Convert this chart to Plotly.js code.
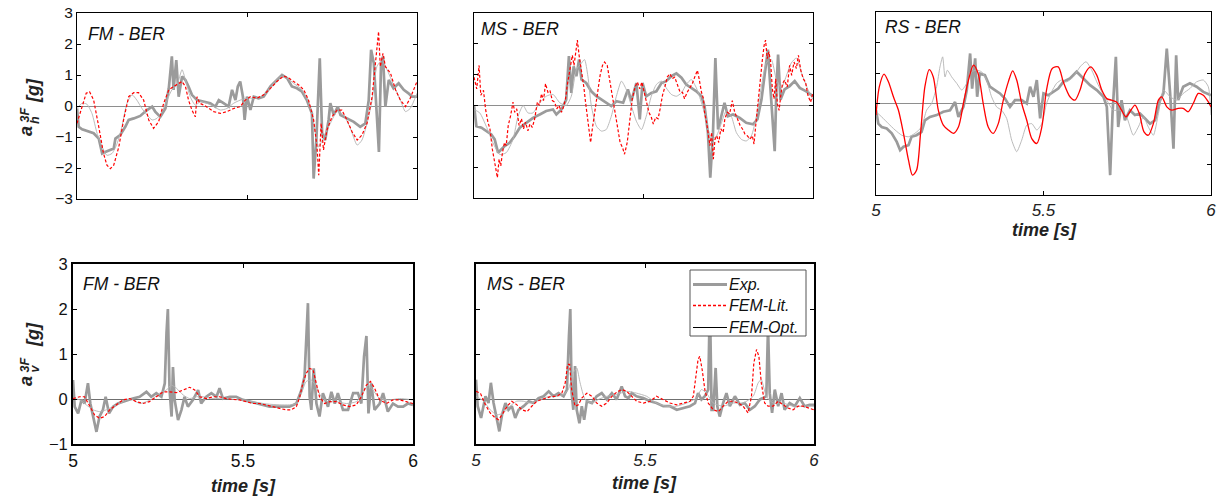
<!DOCTYPE html>
<html><head><meta charset="utf-8">
<script src="https://cdn.plot.ly/plotly-3.0.1.min.js"></script>
<style>html,body{margin:0;padding:0;background:#fff}#chart{width:1223px;height:497px}</style>
</head><body><div id="chart"></div>
<script>
// ---------------- data ----------------
const timeTicks = [5, 5.5, 6];
const timeTickText = ['5', '5.5', '6'];
const hTicks = [-3, -2, -1, 0, 1, 2, 3];
const vTicks = [-1, 0, 1, 2, 3];
const panelNames = ['FM - BER', 'MS - BER', 'RS - BER', 'FM - BER', 'MS - BER'];
const seriesNames = ['Exp.', 'FEM-Lit.', 'FEM-Opt.'];

// [time (s), acceleration (g)]
const fmH_exp = [[5.000,-0.08],[5.005,-0.67],[5.015,-0.75],[5.029,-0.8],[5.049,-0.88],[5.064,-1.05],[5.074,-1.53],[5.083,-1.48],[5.098,-1.42],[5.108,-1.37],[5.113,-1.05],[5.127,-0.94],[5.142,-0.67],[5.152,-0.45],[5.167,-0.4],[5.186,-0.32],[5.206,-0.13],[5.221,-0.02],[5.230,-0.18],[5.245,-0.35],[5.260,-0.08],[5.270,0.57],[5.279,1.6],[5.284,0.52],[5.292,1.48],[5.299,0.3],[5.309,0.95],[5.319,0.84],[5.328,0.63],[5.338,0.36],[5.353,0.19],[5.373,0.14],[5.392,0.09],[5.407,-0.02],[5.417,0.19],[5.431,0.09],[5.446,-0.02],[5.456,0.52],[5.466,0.19],[5.473,0.63],[5.480,0.79],[5.488,0.3],[5.493,-0.45],[5.500,0.3],[5.510,-0.13],[5.520,0.3],[5.534,0.25],[5.549,0.3],[5.569,0.63],[5.588,0.84],[5.603,1.0],[5.618,0.9],[5.632,0.63],[5.647,0.57],[5.662,0.46],[5.676,0.19],[5.691,-0.24],[5.696,-2.34],[5.704,-1.1],[5.714,1.54],[5.721,-0.88],[5.730,-1.1],[5.740,-0.45],[5.745,0.09],[5.755,-0.29],[5.767,-0.02],[5.775,-0.29],[5.794,-0.4],[5.814,-0.51],[5.833,-0.67],[5.848,-0.56],[5.858,0.19],[5.865,1.81],[5.873,1.38],[5.880,-0.02],[5.888,-1.48],[5.894,1.27],[5.900,1.6],[5.907,-0.02],[5.917,0.84],[5.931,0.57],[5.946,0.73],[5.961,0.52],[5.975,0.41],[5.985,0.3],[6.000,0.3]];
const fmH_lit = [[5.000,-0.56],[5.015,0],[5.027,0.41],[5.037,0.46],[5.049,0.19],[5.064,-0.67],[5.078,-1.53],[5.088,-1.91],[5.098,-2.02],[5.108,-1.91],[5.123,-1.32],[5.137,-0.45],[5.152,0.3],[5.167,0.43],[5.181,0.43],[5.196,0.19],[5.211,-0.45],[5.225,-0.72],[5.240,-0.51],[5.255,0.09],[5.270,0.52],[5.284,0.63],[5.299,0.73],[5.309,0.79],[5.319,0.63],[5.328,0.19],[5.338,-0.13],[5.348,-0.35],[5.353,0.3],[5.361,0.09],[5.373,0.03],[5.387,-0.08],[5.402,-0.18],[5.422,-0.24],[5.441,-0.18],[5.461,-0.08],[5.480,-0.02],[5.495,0.19],[5.510,0.3],[5.529,0.25],[5.549,0.36],[5.569,0.57],[5.588,0.79],[5.608,0.97],[5.623,0.9],[5.637,0.79],[5.652,0.68],[5.667,0.52],[5.681,0.19],[5.696,-0.45],[5.706,-1.32],[5.711,-2.23],[5.718,-0.56],[5.725,-1.42],[5.735,-0.78],[5.750,-0.35],[5.765,-0.13],[5.779,-0.13],[5.794,-0.45],[5.809,-0.83],[5.824,-1.1],[5.838,-0.94],[5.853,-0.56],[5.868,0.3],[5.877,1.27],[5.887,2.4],[5.892,1.27],[5.900,1.7],[5.907,1.27],[5.922,1.06],[5.937,0.52],[5.951,0.19],[5.966,-0.02],[5.980,0.25],[6.000,0.79]];
const fmH_opt = [[5.000,-0.08],[5.015,0.09],[5.029,0.06],[5.044,-0.24],[5.059,-0.88],[5.074,-1.32],[5.088,-1.59],[5.103,-1.53],[5.118,-1.21],[5.132,-0.67],[5.147,0.09],[5.162,0.36],[5.176,0.19],[5.191,-0.08],[5.206,-0.29],[5.221,-0.45],[5.235,-0.4],[5.250,-0.18],[5.265,0.19],[5.279,0.52],[5.294,0.68],[5.309,1.17],[5.319,0.84],[5.333,0.3],[5.348,0.03],[5.363,0.14],[5.382,0.09],[5.402,-0.02],[5.422,-0.13],[5.441,-0.08],[5.461,0.09],[5.480,0.19],[5.500,0.25],[5.520,0.25],[5.539,0.3],[5.559,0.46],[5.578,0.73],[5.598,0.95],[5.618,0.9],[5.637,0.73],[5.657,0.57],[5.676,0.25],[5.691,-0.24],[5.701,-0.88],[5.711,-1.32],[5.721,-1.1],[5.730,-0.88],[5.745,-0.56],[5.765,-0.18],[5.784,-0.29],[5.804,-0.72],[5.824,-1.26],[5.838,-1.1],[5.853,-0.56],[5.868,0.19],[5.882,1.27],[5.897,1.48],[5.912,1.17],[5.931,0.68],[5.951,0.19],[5.966,-0.18],[5.980,-0.08],[6.000,0.41]];

const msH_exp = [[5.000,0],[5.007,-0.67],[5.022,-0.72],[5.036,-0.83],[5.051,-0.94],[5.061,-1.1],[5.071,-1.53],[5.081,-1.42],[5.090,-1.32],[5.105,-1.21],[5.120,-0.99],[5.135,-0.72],[5.154,-0.56],[5.174,-0.4],[5.194,-0.29],[5.213,-0.18],[5.233,-0.13],[5.243,-0.29],[5.258,-0.13],[5.272,0.19],[5.280,1.6],[5.287,0.41],[5.294,1.27],[5.302,0.95],[5.310,1.49],[5.317,0.84],[5.331,0.73],[5.346,0.46],[5.361,0.3],[5.376,0.19],[5.390,0.09],[5.405,-0.02],[5.420,0.14],[5.440,0.09],[5.454,0.52],[5.464,0.14],[5.479,0.73],[5.489,-0.45],[5.497,0.73],[5.508,0.3],[5.523,0.41],[5.538,0.46],[5.553,0.73],[5.567,0.79],[5.582,0.95],[5.597,1.04],[5.612,0.9],[5.626,0.68],[5.641,0.57],[5.656,0.46],[5.671,0.3],[5.680,-0.02],[5.690,-0.88],[5.697,-2.34],[5.705,-0.88],[5.712,1.54],[5.720,-0.78],[5.730,-0.35],[5.739,0.09],[5.749,-0.35],[5.764,-0.29],[5.784,-0.4],[5.803,-0.56],[5.823,-0.61],[5.836,-0.45],[5.848,0.19],[5.857,0.95],[5.867,1.81],[5.874,0.63],[5.887,-1.48],[5.892,0.5],[5.897,1.65],[5.904,0.19],[5.916,0.52],[5.931,0.63],[5.946,0.79],[5.961,0.57],[5.980,0.46],[6.000,0.3]];
const msH_lit = [[5.000,0.92],[5.008,0.54],[5.015,1.3],[5.020,0.33],[5.028,0.49],[5.034,-0.11],[5.041,-0.54],[5.047,-0.76],[5.054,-1.41],[5.059,-1.74],[5.064,-2.07],[5.069,-2.34],[5.074,-1.74],[5.079,-1.96],[5.084,-1.52],[5.090,-1.2],[5.095,-1.3],[5.101,-0.65],[5.108,-0.33],[5.115,0.11],[5.120,-0.22],[5.126,-0.11],[5.133,-0.65],[5.140,-0.43],[5.146,-0.76],[5.152,-0.54],[5.159,-0.82],[5.165,-0.6],[5.172,-0.71],[5.179,-0.43],[5.187,0.11],[5.193,0],[5.199,0.38],[5.205,0.16],[5.211,0.71],[5.218,0.43],[5.224,0.49],[5.231,0.16],[5.238,0.11],[5.244,-0.11],[5.251,0],[5.258,-0.22],[5.264,-0.05],[5.270,0.22],[5.275,0.65],[5.280,0.98],[5.285,1.41],[5.290,1.63],[5.295,1.3],[5.300,1.74],[5.305,2.12],[5.310,1.63],[5.315,1.25],[5.320,0.98],[5.324,0.6],[5.329,0.11],[5.334,-0.33],[5.339,-0.65],[5.344,-1.2],[5.349,-0.76],[5.356,-0.22],[5.364,0.43],[5.372,0.98],[5.379,1.3],[5.385,1.41],[5.393,1.3],[5.401,0.76],[5.408,0.22],[5.415,-0.22],[5.423,-0.65],[5.431,-1.2],[5.438,-1.36],[5.444,-1.58],[5.452,-1.2],[5.460,-0.43],[5.467,0.22],[5.475,0.6],[5.482,0.76],[5.489,0.54],[5.495,0.76],[5.502,0.43],[5.509,0.11],[5.516,-0.22],[5.523,-0.38],[5.529,-0.6],[5.536,-0.38],[5.543,-0.43],[5.549,-0.11],[5.556,0.33],[5.563,0.6],[5.570,0.92],[5.578,1.03],[5.585,0.87],[5.592,0.92],[5.600,0.65],[5.608,0.43],[5.615,0.43],[5.621,0.22],[5.629,0.43],[5.637,0.6],[5.644,0.71],[5.651,0.92],[5.659,1.14],[5.664,0.87],[5.671,0.43],[5.677,0.22],[5.680,-0.22],[5.686,-0.54],[5.691,-0.98],[5.696,-1.3],[5.701,-0.87],[5.706,-1.74],[5.711,-1.09],[5.716,-0.98],[5.722,-1.2],[5.728,-0.76],[5.735,-0.87],[5.740,-0.43],[5.747,-0.22],[5.754,-0.27],[5.762,0.16],[5.769,-0.22],[5.777,-0.43],[5.785,-0.65],[5.792,-0.76],[5.799,-0.92],[5.806,-0.98],[5.814,-1.09],[5.821,-0.98],[5.826,-1.25],[5.831,-0.65],[5.836,-0.11],[5.841,0.54],[5.846,1.2],[5.851,1.52],[5.856,1.96],[5.860,2.12],[5.865,1.52],[5.870,1.74],[5.875,1.41],[5.880,0.54],[5.885,0.22],[5.890,0.87],[5.895,0.05],[5.900,-0.16],[5.905,0.33],[5.910,0.71],[5.916,0.82],[5.924,0.6],[5.931,1.3],[5.937,0.98],[5.944,1.41],[5.951,1.2],[5.957,1.63],[5.964,1.14],[5.971,0.87],[5.978,0.76],[5.985,0.33],[5.993,0.11],[6.000,0.43]];
const msH_opt = [[5.000,-0.13],[5.017,-0.24],[5.036,-0.67],[5.056,-1.21],[5.076,-1.59],[5.095,-1.53],[5.115,-1.1],[5.130,-0.35],[5.145,0],[5.159,-0.24],[5.174,-0.24],[5.194,0.09],[5.213,0.3],[5.233,0.36],[5.253,0.09],[5.272,0],[5.287,0.3],[5.302,1.17],[5.314,1.33],[5.326,1.49],[5.336,0.95],[5.346,0],[5.361,-0.67],[5.376,-0.83],[5.390,-0.78],[5.405,-0.35],[5.420,0.3],[5.435,0.79],[5.449,0.52],[5.464,0],[5.479,-0.51],[5.494,-0.78],[5.508,-0.35],[5.523,0.3],[5.538,0.68],[5.553,0.79],[5.567,0.57],[5.582,0.36],[5.597,0.3],[5.612,0.41],[5.626,0.68],[5.641,0.84],[5.656,0.57],[5.671,0.09],[5.685,-0.45],[5.700,-1.1],[5.715,-0.99],[5.730,-0.56],[5.744,-0.18],[5.759,-0.35],[5.774,-0.88],[5.789,-1.1],[5.803,-1.15],[5.818,-0.99],[5.833,-0.35],[5.848,0.63],[5.862,1.38],[5.877,1.49],[5.892,0.84],[5.907,0.57],[5.921,0.95],[5.936,1.38],[5.951,1.54],[5.966,1.06],[5.985,0.52],[6.000,0.19]];

const rsH_exp = [[5.000,-0.22],[5.007,-0.66],[5.017,-0.77],[5.032,-0.82],[5.047,-0.98],[5.062,-1.26],[5.072,-1.53],[5.082,-1.42],[5.097,-1.37],[5.106,-1.09],[5.121,-1.04],[5.136,-0.93],[5.146,-0.55],[5.161,-0.44],[5.181,-0.38],[5.201,-0.27],[5.221,-0.22],[5.236,0.05],[5.246,-0.44],[5.261,-0.11],[5.271,0.44],[5.281,1.64],[5.287,0.49],[5.296,1.48],[5.302,0.22],[5.310,0.98],[5.325,0.93],[5.340,0.55],[5.355,0.44],[5.370,0.33],[5.385,0.16],[5.400,-0.11],[5.415,0.11],[5.435,0.11],[5.450,0],[5.460,0.55],[5.470,0.22],[5.480,0.77],[5.490,-0.49],[5.500,0.33],[5.514,0.27],[5.529,0.38],[5.544,0.49],[5.559,0.71],[5.579,0.82],[5.599,1.04],[5.619,0.82],[5.639,0.6],[5.659,0.44],[5.679,0.22],[5.689,-0.11],[5.699,-2.35],[5.706,-0.33],[5.716,1.53],[5.723,-0.77],[5.733,0.11],[5.743,-0.55],[5.758,-0.22],[5.773,-0.38],[5.788,-0.33],[5.803,-0.49],[5.818,-0.66],[5.833,-0.55],[5.848,0.11],[5.858,0.33],[5.868,1.8],[5.878,0.33],[5.888,-1.48],[5.896,1.58],[5.902,0.11],[5.917,0.55],[5.937,0.66],[5.957,0.55],[5.977,0.38],[6.000,0.27]];
const rsH_lit = [[5.000,-0.38],[5.010,0.55],[5.024,0.96],[5.037,0.71],[5.052,0.22],[5.067,-0.22],[5.082,-0.98],[5.097,-1.86],[5.109,-2.35],[5.121,-2.19],[5.133,-0.98],[5.146,0.55],[5.159,1.11],[5.171,0.87],[5.186,-0.22],[5.201,-0.71],[5.216,-0.87],[5.231,-0.98],[5.246,-0.77],[5.261,0],[5.276,0.77],[5.291,1.26],[5.305,0.98],[5.320,0],[5.335,-0.77],[5.350,-0.98],[5.365,-0.66],[5.380,0.11],[5.395,0.71],[5.408,1.07],[5.420,0.77],[5.435,0],[5.450,-0.55],[5.465,-1.15],[5.480,-1.31],[5.495,-0.77],[5.509,0.44],[5.526,1.15],[5.544,1.2],[5.559,0.71],[5.579,0.22],[5.594,0.11],[5.609,0.44],[5.624,0.98],[5.641,1.2],[5.659,0.93],[5.674,0.44],[5.689,0.16],[5.703,0.11],[5.718,0.05],[5.733,-0.22],[5.746,-0.44],[5.758,-0.27],[5.773,-0.05],[5.786,-0.33],[5.800,-0.93],[5.813,-1.04],[5.828,-0.66],[5.843,0.11],[5.853,0.22],[5.868,-0.11],[5.883,-0.22],[5.902,-0.16],[5.917,-0.16],[5.932,-0.27],[5.947,0],[5.962,0.33],[5.977,0.27],[5.992,0.05],[6.000,-0.11]];
const rsH_opt = [[5.000,-0.27],[5.017,-0.44],[5.037,-0.66],[5.057,-0.87],[5.077,-1.04],[5.097,-1.09],[5.116,-0.98],[5.136,-0.77],[5.151,-0.22],[5.166,0],[5.181,0.55],[5.191,1.2],[5.199,1.53],[5.206,0.87],[5.213,1.09],[5.226,0.87],[5.241,0.66],[5.256,0.44],[5.271,0.66],[5.286,1.04],[5.300,1.09],[5.315,1.04],[5.330,0.77],[5.345,0.22],[5.360,-0.11],[5.375,-0.22],[5.390,-0.49],[5.405,-1.2],[5.420,-1.58],[5.435,-1.2],[5.450,-0.71],[5.465,-0.66],[5.480,-0.87],[5.495,-0.66],[5.509,0],[5.524,0.38],[5.539,0.66],[5.554,0.77],[5.569,0.71],[5.589,0.87],[5.609,1.2],[5.627,1.37],[5.644,1.09],[5.659,0.71],[5.674,0.38],[5.689,0.11],[5.708,-0.22],[5.728,-0.22],[5.748,-0.44],[5.768,-1.04],[5.783,-0.77],[5.798,-0.44],[5.813,-0.77],[5.828,-1.04],[5.843,-0.33],[5.858,0.44],[5.878,0.22],[5.898,0.11],[5.917,0.33],[5.937,0.49],[5.957,0.71],[5.977,0.77],[5.992,0.55],[6.000,-0.38]];

const fmV_exp = [[5.000,0.42],[5.005,-0.17],[5.015,-0.32],[5.025,-0.02],[5.034,-0.1],[5.044,0.35],[5.051,-0.1],[5.061,-0.47],[5.069,-0.73],[5.078,-0.39],[5.088,-0.24],[5.096,0.05],[5.106,-0.32],[5.118,-0.17],[5.132,-0.1],[5.147,-0.06],[5.162,-0.02],[5.176,0.01],[5.196,0.05],[5.216,0.16],[5.230,0.05],[5.245,0.13],[5.260,0.05],[5.270,0.35],[5.275,1.46],[5.279,2.0],[5.284,0.2],[5.290,-0.39],[5.294,0.71],[5.299,-0.02],[5.309,-0.47],[5.319,-0.24],[5.328,0.05],[5.338,-0.17],[5.353,-0.02],[5.368,0.2],[5.377,-0.1],[5.392,0.05],[5.407,0.13],[5.422,0.05],[5.431,0.24],[5.441,0.01],[5.461,0.05],[5.480,0.05],[5.500,-0.02],[5.520,-0.06],[5.539,-0.1],[5.559,-0.13],[5.578,-0.17],[5.598,-0.17],[5.618,-0.17],[5.637,-0.17],[5.657,-0.1],[5.672,0.2],[5.681,0.5],[5.691,2.13],[5.696,0.05],[5.701,-0.24],[5.708,0.68],[5.716,-0.1],[5.725,-0.39],[5.735,0.13],[5.750,-0.17],[5.760,0.16],[5.770,-0.1],[5.779,0.13],[5.794,-0.24],[5.809,-0.24],[5.824,0.13],[5.838,0.13],[5.848,-0.1],[5.856,0.94],[5.863,1.4],[5.869,-0.32],[5.877,0.35],[5.887,-0.24],[5.902,-0.1],[5.912,0.13],[5.926,-0.28],[5.941,-0.1],[5.956,-0.17],[5.971,-0.17],[5.985,-0.1],[6.000,-0.13]];
const fmV_lit = [[5.000,0.01],[5.020,0.05],[5.034,0.05],[5.049,-0.17],[5.064,-0.36],[5.078,-0.43],[5.093,-0.39],[5.108,-0.24],[5.127,-0.13],[5.147,-0.02],[5.167,0.01],[5.186,-0.06],[5.206,-0.1],[5.225,-0.06],[5.245,0.05],[5.265,0.16],[5.284,0.16],[5.304,0.14],[5.324,0.2],[5.343,0.26],[5.358,0.2],[5.373,0.05],[5.392,0.01],[5.412,0.05],[5.431,0.05],[5.451,0.01],[5.471,-0.01],[5.490,-0.02],[5.510,-0.06],[5.529,-0.1],[5.549,-0.1],[5.569,-0.13],[5.588,-0.17],[5.608,-0.21],[5.627,-0.24],[5.642,-0.24],[5.657,-0.17],[5.667,0.05],[5.676,0.35],[5.686,0.57],[5.696,0.68],[5.706,0.65],[5.716,0.35],[5.725,0.05],[5.740,-0.1],[5.755,-0.06],[5.775,-0.06],[5.794,-0.13],[5.814,-0.17],[5.833,-0.13],[5.848,0.05],[5.863,0.31],[5.875,0.39],[5.887,0.24],[5.902,-0.02],[5.922,-0.1],[5.941,-0.02],[5.961,-0.02],[5.980,-0.06],[6.000,-0.1]];
const fmV_opt = [[5.000,0.01],[5.020,-0.02],[5.039,-0.13],[5.059,-0.24],[5.078,-0.28],[5.098,-0.24],[5.118,-0.17],[5.137,-0.1],[5.157,-0.02],[5.176,-0.02],[5.196,-0.1],[5.216,-0.06],[5.235,0.01],[5.255,0.13],[5.275,0.2],[5.289,0.31],[5.304,0.24],[5.324,0.09],[5.343,0.01],[5.363,0.05],[5.382,0.05],[5.412,0.01],[5.451,0.01],[5.490,-0.02],[5.529,-0.06],[5.569,-0.11],[5.608,-0.13],[5.637,-0.13],[5.657,-0.1],[5.672,0.13],[5.686,0.39],[5.701,0.42],[5.716,0.27],[5.730,0.05],[5.750,-0.06],[5.775,-0.06],[5.804,-0.1],[5.833,-0.06],[5.853,0.13],[5.868,0.31],[5.882,0.2],[5.902,0.01],[5.931,-0.02],[5.961,0.01],[6.000,-0.02]];

const msV_exp = [[5.000,0.43],[5.005,-0.16],[5.015,-0.42],[5.028,0.06],[5.037,-0.09],[5.044,0.36],[5.052,-0.09],[5.062,-0.46],[5.069,-0.72],[5.077,-0.35],[5.087,-0.09],[5.096,-0.24],[5.106,-0.16],[5.116,-0.42],[5.126,-0.24],[5.141,-0.16],[5.156,-0.05],[5.170,-0.09],[5.185,0.02],[5.200,0.06],[5.215,0.17],[5.229,0.06],[5.244,0.13],[5.259,0.06],[5.269,0.21],[5.275,1.4],[5.279,2.0],[5.283,0.13],[5.288,-0.24],[5.293,0.73],[5.298,-0.24],[5.306,-0.54],[5.313,-0.16],[5.320,-0.46],[5.328,-0.05],[5.343,-0.09],[5.357,0.06],[5.372,0.13],[5.387,-0.01],[5.402,0.13],[5.416,-0.01],[5.431,0.28],[5.441,0.06],[5.451,0.02],[5.461,0.13],[5.475,0.06],[5.495,0.02],[5.515,-0.05],[5.534,-0.09],[5.554,-0.16],[5.574,-0.16],[5.594,-0.24],[5.613,-0.2],[5.633,-0.16],[5.648,-0.09],[5.657,0.13],[5.667,-0.01],[5.677,0.06],[5.687,0.21],[5.692,2.2],[5.697,-0.24],[5.702,-0.24],[5.709,0.69],[5.714,-0.16],[5.721,-0.39],[5.731,-0.09],[5.741,0.13],[5.751,-0.16],[5.766,0.06],[5.781,-0.13],[5.795,-0.09],[5.810,-0.24],[5.825,-0.16],[5.840,-0.01],[5.849,0.02],[5.859,0.06],[5.864,1.6],[5.869,0.13],[5.876,-0.31],[5.884,0.21],[5.894,-0.16],[5.904,0.13],[5.913,-0.24],[5.928,-0.09],[5.943,-0.16],[5.958,0.02],[5.972,-0.16],[5.987,-0.13],[6.000,-0.13]];
const msV_lit = [[5.000,0.17],[5.013,0.13],[5.028,-0.13],[5.042,-0.31],[5.057,-0.42],[5.067,-0.46],[5.077,-0.35],[5.092,-0.16],[5.106,-0.05],[5.121,-0.13],[5.136,-0.24],[5.151,-0.28],[5.165,-0.16],[5.180,-0.05],[5.195,-0.01],[5.210,0.02],[5.224,0.06],[5.239,0.06],[5.254,0.13],[5.264,0.36],[5.271,0.77],[5.277,0.77],[5.283,0.21],[5.293,-0.16],[5.303,-0.13],[5.313,0.02],[5.328,0.13],[5.343,0.06],[5.357,-0.09],[5.372,-0.16],[5.387,-0.09],[5.402,0.06],[5.416,0.15],[5.431,0.21],[5.446,0.17],[5.461,0.06],[5.475,-0.05],[5.495,-0.09],[5.515,-0.05],[5.534,0.06],[5.554,-0.01],[5.574,-0.09],[5.594,-0.13],[5.613,-0.09],[5.633,-0.05],[5.643,0.06],[5.651,0.51],[5.657,0.88],[5.662,0.95],[5.669,0.66],[5.677,0.21],[5.687,-0.09],[5.702,-0.24],[5.717,-0.28],[5.731,-0.16],[5.746,-0.05],[5.761,-0.05],[5.776,-0.09],[5.790,-0.16],[5.805,-0.31],[5.815,0.06],[5.822,0.8],[5.830,1.1],[5.837,0.95],[5.844,0.36],[5.854,-0.09],[5.864,-0.16],[5.879,-0.16],[5.894,-0.05],[5.908,-0.13],[5.923,-0.2],[5.938,-0.24],[5.953,-0.16],[5.968,-0.16],[5.982,-0.2],[6.000,-0.24]];
const msV_opt = [[5.000,0.06],[5.023,-0.05],[5.042,-0.24],[5.062,-0.35],[5.081,-0.31],[5.101,-0.16],[5.120,-0.05],[5.140,-0.05],[5.160,-0.09],[5.180,-0.05],[5.200,0.02],[5.219,0.06],[5.239,0.06],[5.259,0.1],[5.273,0.21],[5.288,0.58],[5.298,0.69],[5.308,0.36],[5.323,-0.01],[5.343,-0.09],[5.362,-0.01],[5.387,0.06],[5.416,0.1],[5.446,0.17],[5.475,0.13],[5.505,0.06],[5.534,-0.09],[5.564,-0.16],[5.593,-0.16],[5.623,-0.09],[5.652,0.02],[5.667,0.21],[5.682,0.13],[5.702,-0.09],[5.731,-0.16],[5.761,-0.09],[5.790,-0.09],[5.820,0.06],[5.835,0.36],[5.844,0.43],[5.859,0.06],[5.879,-0.09],[5.908,-0.09],[5.938,-0.16],[5.968,-0.16],[6.000,-0.16]];

// ---------------- layout helpers ----------------
const W = 1223, H = 497;
const fx = p => p / W;
const fy = p => 1 - p / H;
const FONT = 'Liberation Sans, Arial, Helvetica, sans-serif';

const EXP = {color: '#9b9b9b', width: 2.7};
const LIT = {color: '#ff0000', width: 1.2, dash: '3px,2px'};
const LIT_SOLID = {color: '#ff0000', width: 1.3, shape: 'spline', smoothing: 0.8};
const OPT = {color: '#b3b3b3', width: 0.9, shape: 'spline', smoothing: 0.6};

// panel boxes in px: [left, right, top, bottom]
const boxes = [[77, 417, 13, 199], [474, 813, 13, 198], [876, 1211, 12, 195], [73, 413, 264, 444], [476, 814, 264, 444]];
const panelData = [
  [fmH_exp, fmH_lit, fmH_opt],
  [msH_exp, msH_lit, msH_opt],
  [rsH_exp, rsH_lit, rsH_opt],
  [fmV_exp, fmV_lit, fmV_opt],
  [msV_exp, msV_lit, msV_opt]
];

const traces = [];
const layout = {
  width: W, height: H,
  margin: {l: 0, r: 0, t: 0, b: 0},
  paper_bgcolor: '#fff', plot_bgcolor: '#fff',
  font: {family: FONT, color: '#000'},
  showlegend: false,
  annotations: [],
  shapes: []
};

boxes.forEach((b, i) => {
  const k = i + 1;
  const xs = k === 1 ? '' : k;
  const isBottom = i >= 3;
  const xa = {
    domain: [fx(b[0]), fx(b[1])], anchor: 'y' + xs, range: [5, 6],
    tickmode: 'array', tickvals: timeTicks, ticktext: timeTickText,
    ticks: 'inside', ticklen: 4, tickcolor: '#000', tickwidth: 1,
    showline: true, mirror: 'ticks', linecolor: '#000', linewidth: isBottom ? 2 : 1,
    showgrid: false, zeroline: false, fixedrange: true,
    showticklabels: (i >= 2)
  };
  if (i === 3) xa.tickfont = {family: FONT, size: 17.5, color: '#111'};
  if (i === 2 || i === 4) xa.tickfont = {family: FONT, size: 17, style: 'italic', color: '#222'};
  const ya = {
    domain: [fy(b[3]), fy(b[2])], anchor: 'x' + xs,
    range: isBottom ? [-1, 3] : [-3, 3],
    tickmode: 'array', tickvals: isBottom ? vTicks : hTicks,
    ticks: 'inside', ticklen: 4, tickcolor: '#000', tickwidth: 1,
    showline: true, mirror: 'ticks', linecolor: '#000', linewidth: isBottom ? 2 : 1,
    showgrid: false, zeroline: true, zerolinecolor: isBottom ? '#6f6f6f' : '#8e8e8e', zerolinewidth: 1,
    fixedrange: true,
    showticklabels: (i === 0 || i === 3),
    tickfont: {family: FONT, size: isBottom ? 16.5 : 15.5, color: '#111'}
  };
  layout['xaxis' + xs] = xa;
  layout['yaxis' + xs] = ya;

  const [e, l, o] = panelData[i];
  const mk = (d, line, name) => ({
    type: 'scatter', mode: 'lines', x: d.map(p => p[0]), y: d.map(p => p[1]),
    xaxis: 'x' + xs, yaxis: 'y' + xs, line: line, name: name, showlegend: false, hoverinfo: 'skip'
  });
  traces.push(mk(e, EXP, seriesNames[0]));
  traces.push(mk(o, OPT, seriesNames[2]));
  traces.push(mk(l, i === 2 ? LIT_SOLID : LIT, seriesNames[1]));
});

// legend box (inside the MS vertical panel)
const LEG = {x0: 690, x1: 806, y0: 270, y1: 336, rows: [284.5, 305.5, 327.5]};
layout.shapes.push({type: 'rect', xref: 'paper', yref: 'paper', layer: 'above',
  x0: fx(LEG.x0), x1: fx(LEG.x1), y0: fy(LEG.y1), y1: fy(LEG.y0),
  fillcolor: 'rgb(255,255,255)', line: {color: 'rgb(85,85,85)', width: 1}});
const legendLines = [
  {color: 'rgb(155,155,155)', width: 2.8, dash: 'solid'},
  {color: 'rgb(255,0,0)', width: 1.3, dash: '3px,2px'},
  {color: 'rgb(0,0,0)', width: 1, dash: 'solid'}
];
LEG.rows.forEach((ry, i) => {
  layout.shapes.push({type: 'line', xref: 'paper', yref: 'paper', layer: 'above',
    x0: fx(693), x1: fx(727), y0: fy(ry), y1: fy(ry),
    line: {color: legendLines[i].color, width: legendLines[i].width, dash: legendLines[i].dash}});
  layout.annotations.push({xref: 'paper', yref: 'paper', x: fx(727), y: fy(ry),
    xanchor: 'left', yanchor: 'middle', showarrow: false, text: seriesNames[i],
    font: {family: FONT, size: 16, style: 'italic', color: '#111'}});
});

// panel labels
const labelPos = [[88, 34], [481, 29], [885, 27], [83, 284], [487, 284]];
labelPos.forEach((p, i) => {
  layout.annotations.push({xref: 'paper', yref: 'paper', x: fx(p[0] - 2), y: fy(p[1]),
    xanchor: 'left', yanchor: 'middle', showarrow: false, text: panelNames[i],
    font: {family: FONT, size: 17.5, style: 'italic', color: '#111'}});
});

// x-axis titles
[[243, 486], [645, 483], [1044, 230]].forEach(p => {
  layout.annotations.push({xref: 'paper', yref: 'paper', x: fx(p[0]), y: fy(p[1]),
    xanchor: 'center', yanchor: 'middle', showarrow: false, text: 'time [s]',
    font: {family: FONT, size: 18, weight: 'bold', style: 'italic', color: '#222'}});
});

// y-axis titles (stacked super/subscript)
function yTitle(sub, a, s, sp, g) {
  const big = {family: FONT, size: 18, weight: 'bold', style: 'italic', color: '#222'};
  const small = {family: FONT, size: 12.5, weight: 'bold', style: 'italic', color: '#222'};
  const add = (t, p, f) => layout.annotations.push({xref: 'paper', yref: 'paper', x: fx(p[0]), y: fy(p[1]),
    xanchor: 'center', yanchor: 'middle', showarrow: false, textangle: -90, text: t, font: f});
  add('a', a, big); add(sub, s, small); add('3F', sp, small); add('[g]', g, big);
}
yTitle('h', [26, 131], [35, 120], [24.5, 115], [33, 91]);
yTitle('v', [26, 381], [34.5, 369], [24.5, 365], [33, 335]);

Plotly.newPlot('chart', traces, layout, {staticPlot: true, displayModeBar: false});
</script>
</body></html>
